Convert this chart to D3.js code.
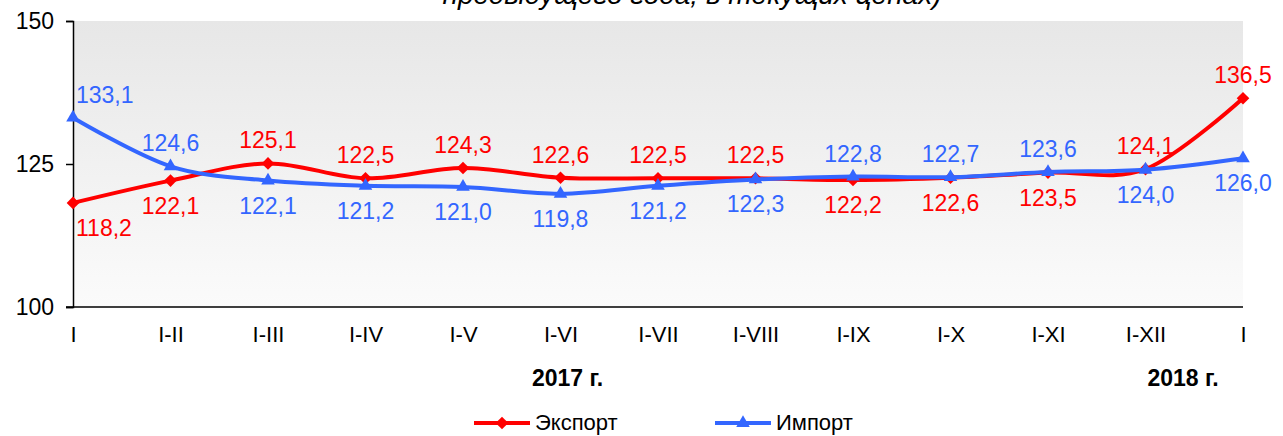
<!DOCTYPE html>
<html>
<head>
<meta charset="utf-8">
<script src="https://cdn.jsdelivr.net/npm/d3@7"></script>
<style>
  body { margin: 0; background: #fff; }
  svg { display: block; font-family: Arial, "Liberation Sans", sans-serif; }
</style>
</head>
<body>
<svg id="chart"></svg>
<script>
const periods = ["I", "I-II", "I-III", "I-IV", "I-V", "I-VI", "I-VII", "I-VIII", "I-IX", "I-X", "I-XI", "I-XII", "I"]
const exportVals = [118.2, 122.1, 125.1, 122.5, 124.3, 122.6, 122.5, 122.5, 122.2, 122.6, 123.5, 124.1, 136.5]
const importVals = [133.1, 124.6, 122.1, 121.2, 121.0, 119.8, 121.2, 122.3, 122.8, 122.7, 123.6, 124.0, 126.0]
// label above (1) or below (-1) the point
const exportPos = [-1, -1, 1, 1, 1, 1, 1, 1, -1, -1, -1, 1, 1]
const importPos = [1, 1, -1, -1, -1, -1, -1, -1, 1, 1, 1, -1, -1]
const yTicks = [100, 125, 150]
const years = [{ label: "2017 г.", at: 5, dx: 7 }, { label: "2018 г.", at: 12, dx: -60 }]

const exportColor = "#ff0000"
const importColor = "#3366ff"

const W = 1283, H = 436
const plot = { left: 73, right: 1243, top: 21, bottom: 307 }
const font = "Arial, 'Liberation Sans', sans-serif"

const svg = d3.select("#chart").attr("width", W).attr("height", H)

// background gradient
const defs = svg.append("defs")
const grad = defs.append("linearGradient").attr("id", "bg")
  .attr("x1", 0).attr("y1", 0).attr("x2", 0).attr("y2", 1)
grad.append("stop").attr("offset", "0%").attr("stop-color", "#e7e7e7")
grad.append("stop").attr("offset", "100%").attr("stop-color", "#fbfbfb")

svg.append("rect")
  .attr("x", plot.left).attr("y", plot.top)
  .attr("width", plot.right - plot.left).attr("height", plot.bottom - plot.top)
  .attr("fill", "url(#bg)")

// title (cut off at the top, as in the source)
svg.append("text")
  .attr("x", 692).attr("y", 4)
  .attr("text-anchor", "middle")
  .attr("font-size", 28).attr("font-style", "italic")
  .text("предыдущего года; в текущих ценах)")

// scales
const x = d3.scalePoint().domain(d3.range(periods.length)).range([plot.left, plot.right])
const y = d3.scaleLinear().domain([100, 150]).range([plot.bottom, plot.top])

// y axis
const yAxis = svg.append("g")
  .attr("transform", `translate(${plot.left},0)`)
  .call(d3.axisLeft(y).tickValues(yTicks).tickSize(7).tickPadding(12))
yAxis.selectAll("path, line").attr("stroke", "#000").attr("stroke-width", 1.5)
yAxis.selectAll("text").attr("font-size", 23).attr("fill", "#000").attr("font-family", font)

// x axis
const xAxis = svg.append("g")
  .attr("transform", `translate(0,${plot.bottom})`)
  .call(d3.axisBottom(x).tickSize(0).tickPadding(19).tickFormat(i => periods[i]))
xAxis.select(".domain").attr("stroke", "#000").attr("stroke-width", 1.5)
  .attr("d", `M${plot.left - 7},0H${plot.right}`)
xAxis.selectAll("text").attr("font-size", 22).attr("fill", "#000").attr("font-family", font)

// year labels
svg.selectAll(".year").data(years).enter().append("text")
  .attr("x", d => x(d.at) + d.dx)
  .attr("y", 386)
  .attr("text-anchor", "middle")
  .attr("font-size", 23).attr("font-weight", "bold")
  .text(d => d.label)

const line = d3.line()
  .x((d, i) => x(i))
  .y(d => y(d))
  .curve(d3.curveCatmullRom.alpha(0))

// diamond = rotated square, triangle = d3 triangle
function marker(type) {
  return type === "diamond"
    ? d3.symbol().type(d3.symbolSquare).size(80)()
    : d3.symbol().type(d3.symbolTriangle).size(80)()
}
const rot = type => type === "diamond" ? " rotate(45)" : ""

function drawSeries(vals, pos, color, type) {
  const g = svg.append("g")
  g.append("path")
    .datum(vals)
    .attr("d", line)
    .attr("fill", "none")
    .attr("stroke", color)
    .attr("stroke-width", 4)
  g.selectAll(".m").data(vals).enter().append("path")
    .attr("transform", (d, i) => `translate(${x(i)},${y(d)})` + rot(type))
    .attr("d", marker(type))
    .attr("fill", color)
  g.selectAll(".lbl").data(vals).enter().append("text")
    .attr("x", (d, i) => i === 0 ? x(i) + 3 : x(i))
    .attr("y", (d, i) => pos[i] > 0 ? y(d) - 15 : y(d) + 33)
    .attr("text-anchor", (d, i) => i === 0 ? "start" : "middle")
    .attr("font-size", 23)
    .attr("fill", color)
    .text(d => d.toFixed(1).replace(".", ","))
}

drawSeries(exportVals, exportPos, exportColor, "diamond")
drawSeries(importVals, importPos, importColor, "triangle")

// legend
const legend = [
  { name: "Экспорт", color: exportColor, type: "diamond", x: 474 },
  { name: "Импорт", color: importColor, type: "triangle", x: 715 }
]
const lg = svg.selectAll(".legend").data(legend).enter().append("g")
  .attr("transform", d => `translate(${d.x},423)`)
lg.append("line").attr("x1", 0).attr("x2", 56).attr("stroke", d => d.color).attr("stroke-width", 4)
lg.append("path")
  .attr("transform", d => "translate(28,0)" + rot(d.type))
  .attr("d", d => marker(d.type))
  .attr("fill", d => d.color)
lg.append("text").attr("x", 61).attr("y", 7)
  .attr("font-size", 22)
  .text(d => d.name)
</script>
</body>
</html>
